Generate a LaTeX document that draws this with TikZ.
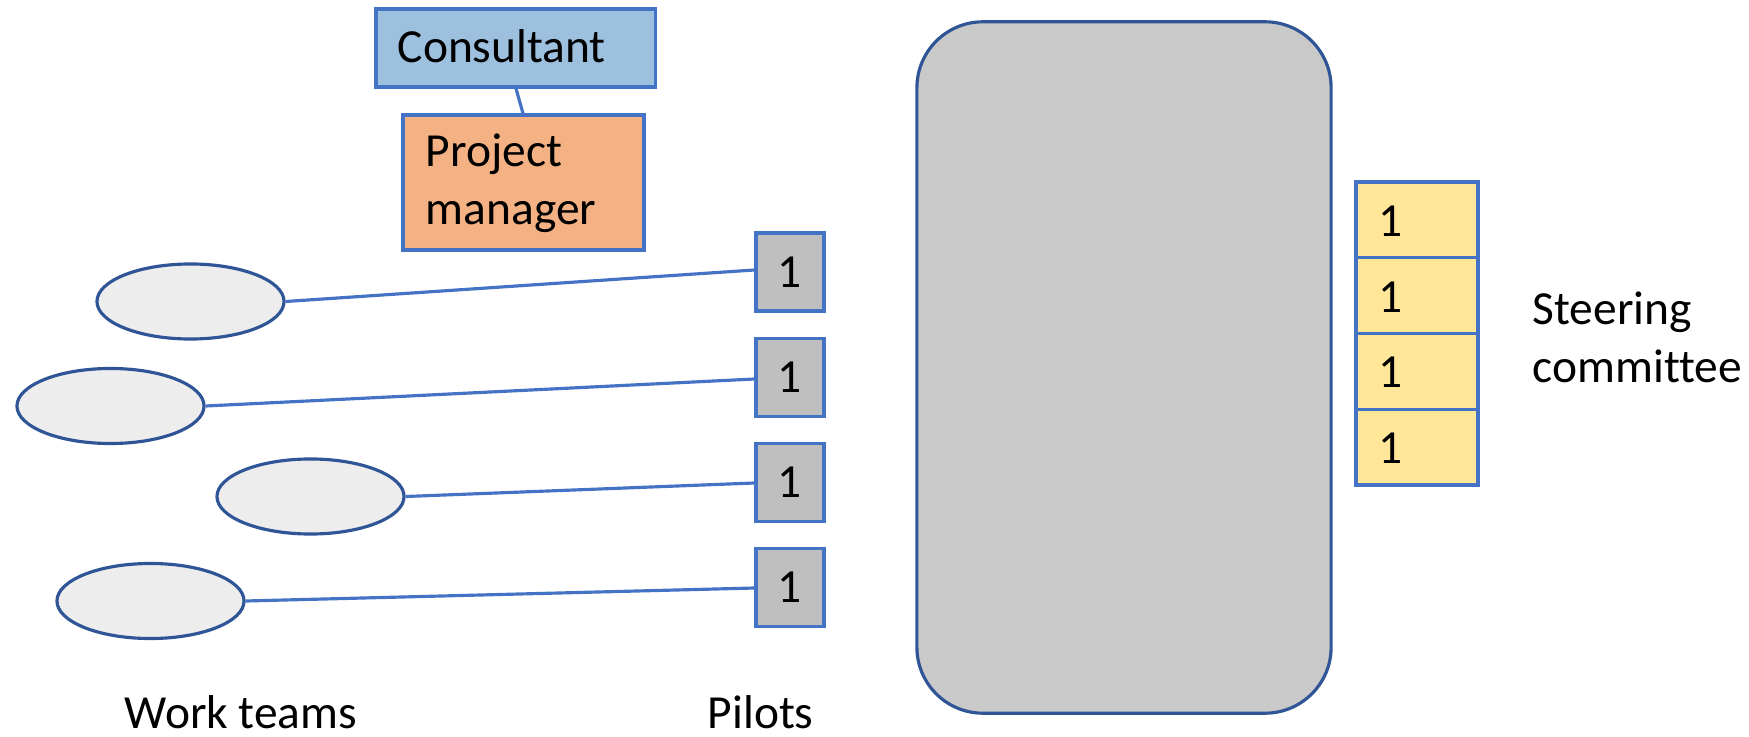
\documentclass[tikz,border=0pt]{standalone}
\usepackage{fontspec}
\setmainfont{Carlito}[Ligatures={NoCommon}]
\usetikzlibrary{shapes.geometric}
\definecolor{edgeblue}{HTML}{4472C4}
\definecolor{darkedge}{HTML}{2F5597}
\definecolor{consfill}{HTML}{9DC0DE}
\definecolor{pmfill}{HTML}{F4B183}
\definecolor{pilotfill}{HTML}{BFBFBF}
\definecolor{corefill}{HTML}{C9C9C9}
\definecolor{steerfill}{HTML}{FFE699}
\definecolor{teamfill}{HTML}{EDEDED}
\tikzset{
  lbl/.style={font=\fontsize{13.5}{16}\selectfont, inner sep=0pt, anchor=base west},
  boxshape/.style={draw=edgeblue, line width=0.9pt, rectangle, inner sep=0pt},
  pilotbox/.style={boxshape, fill=pilotfill, minimum width=0.68cm, minimum height=0.78cm,
                   font=\fontsize{13.5}{16}\selectfont},
  steerbox/.style={boxshape, fill=steerfill, minimum width=1.22cm, minimum height=0.7575cm},
  team/.style={ellipse, draw=darkedge, fill=teamfill, line width=0.9pt,
               minimum width=1.87cm, minimum height=0.75cm, inner sep=0pt},
  link/.style={draw=edgeblue, line width=0.9pt}
}
\begin{document}
\begin{tikzpicture}[x=0.01cm, y=-0.01cm]
  \useasboundingbox (0,0) rectangle (1749,737);

  % consultant and project manager
  \node[boxshape, fill=consfill, minimum width=2.79cm, minimum height=0.78cm] (cons) at (515.5,48) {};
  \node[boxshape, fill=pmfill, minimum width=2.41cm, minimum height=1.35cm] (pm) at (523.5,182.5) {};
  \draw[link] (cons.south -| 516,0) -- (pm.north -| 523,0);
  \node[lbl] (consT) at (397,63) {Consultant};
  \node[lbl] (pmT1) at (425,167) {Project};
  \node[lbl] (pmT2) at (425,225) {manager};

  % central block
  \node[draw=darkedge, fill=corefill, line width=0.9pt, rounded corners=0.66cm,
        minimum width=4.14cm, minimum height=6.91cm, inner sep=0pt] (core) at (1124,367.5) {};

  % pilots
  \node[pilotbox] (p1) at (790,272) {1};
  \node[pilotbox] (p2) at (790,377.5) {1};
  \node[pilotbox] (p3) at (790,482.5) {1};
  \node[pilotbox] (p4) at (790,587.5) {1};

  % work teams
  \node[team] (t1) at (190.5,301.5) {};
  \node[team] (t2) at (110.5,406) {};
  \node[team] (t3) at (310.5,496.5) {};
  \node[team] (t4) at (150.5,601) {};
  \draw[link] (t1.east) -- (p1.west |- 0,270);
  \draw[link] (t2.east) -- (p2.west |- 0,379);
  \draw[link] (t3.east) -- (p3.west |- 0,483);
  \draw[link] (t4.east) -- (p4.west |- 0,588);

  % steering committee
  \node[steerbox] (s1) at (1417,219.9) {};
  \node[steerbox] (s2) at (1417,295.6) {};
  \node[steerbox] (s3) at (1417,371.4) {};
  \node[steerbox] (s4) at (1417,447.1) {};
  \node[lbl] (s1T) at (1378,237) {1};
  \node[lbl] (s2T) at (1378,312.5) {1};
  \node[lbl] (s3T) at (1378,388) {1};
  \node[lbl] (s4T) at (1378,463.5) {1};
  \node[lbl] (steerT1) at (1532,325) {Steering};
  \node[lbl] (steerT2) at (1532,383) {committee};

  % captions
  \node[lbl] (teamsT) at (124,728) {Work teams};
  \node[lbl] (pilotsT) at (707,728) {Pilots};
\end{tikzpicture}
\end{document}
